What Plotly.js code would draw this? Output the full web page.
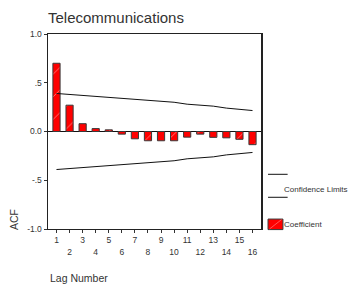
<!DOCTYPE html>
<html>
<head>
<meta charset="utf-8">
<script src="https://cdn.plot.ly/plotly-3.0.1.min.js"></script>
<style>html,body{margin:0;padding:0;background:#fff;}#chart{width:350px;height:289px;}</style>
</head>
<body>
<div id="chart"></div>
<script>
// Data
const lags = [1,2,3,4,5,6,7,8,9,10,11,12,13,14,15,16];
const acf = [0.70,0.27,0.08,0.03,0.017,-0.027,-0.075,-0.095,-0.095,-0.095,-0.058,-0.027,-0.06,-0.065,-0.08,-0.135];
const upperLimit = [0.39,0.38,0.37,0.36,0.35,0.34,0.33,0.32,0.31,0.30,0.28,0.27,0.26,0.24,0.23,0.215];
const lowerLimit = [-0.39,-0.38,-0.37,-0.36,-0.35,-0.34,-0.33,-0.32,-0.31,-0.30,-0.28,-0.27,-0.26,-0.24,-0.23,-0.215];
const yTickVals = [1,0.5,0,-0.5,-1];
const yTickText = ['1.0','.5','0.0','-.5','-1.0'];
const oddLabels = lags.map(v => v % 2 === 1 ? String(v) : '');
const evenLags = lags.filter(v => v % 2 === 0);
const evenLabels = evenLags.map(String);

const FONT = 'Liberation Sans, Arial, sans-serif';

const traces = [
  {
    type: 'bar', x: lags, y: acf, width: 0.55,
    marker: {
      color: '#ff0000',
      line: {color: '#3a3a3a', width: 1},
      pattern: {shape: '/', bgcolor: '#ff0000', fgcolor: '#ff8a8a', size: 16, solidity: 0.05}
    },
    showlegend: false, hoverinfo: 'skip'
  },
  {type: 'scatter', mode: 'lines', x: lags, y: upperLimit, line: {color: '#111', width: 1}, showlegend: false, hoverinfo: 'skip'},
  {type: 'scatter', mode: 'lines', x: lags, y: lowerLimit, line: {color: '#111', width: 1}, showlegend: false, hoverinfo: 'skip'},
  {type: 'scatter', mode: 'markers', x: evenLags, y: evenLags.map(() => null), xaxis: 'x2', showlegend: false, hoverinfo: 'skip'}
];

const layout = {
  width: 350, height: 289,
  margin: {l: 48, r: 89, t: 34, b: 60},
  paper_bgcolor: '#fff', plot_bgcolor: '#fff',
  font: {family: FONT, color: '#333'},
  title: {text: 'Telecommunications', font: {family: FONT, size: 15, color: '#333'},
          xref: 'paper', x: 0, xanchor: 'left', yref: 'container', y: 0.94, yanchor: 'middle'},
  bargap: 0.4,
  xaxis: {
    range: [0.35, 16.65], tickvals: lags, ticktext: oddLabels,
    ticks: 'outside', ticklen: 3, tickcolor: '#333', tickwidth: 1,
    showline: true, linecolor: '#222', linewidth: 1, mirror: true,
    showgrid: false, zeroline: false,
    tickfont: {family: FONT, size: 8.5, color: '#333'}
  },
  xaxis2: {
    overlaying: 'x', matches: 'x', side: 'bottom', anchor: 'y',
    tickvals: evenLags, ticktext: evenLabels, ticks: '', showline: false,
    showgrid: false, zeroline: false, ticklabelstandoff: 16,
    tickfont: {family: FONT, size: 8.5, color: '#333'}
  },
  yaxis: {
    range: [-1, 1], tickvals: yTickVals, ticktext: yTickText,
    ticks: 'outside', ticklen: 3, tickcolor: '#333',
    showline: true, linecolor: '#222', linewidth: 1.5, mirror: true,
    showgrid: false, zeroline: true, zerolinecolor: '#111', zerolinewidth: 1,
    tickfont: {family: FONT, size: 8.5, color: '#333'}
  },
  shapes: [
    {type: 'line', xref: 'paper', yref: 'paper', x0: 1.033, x1: 1.125, y0: 0.2805, y1: 0.2805, line: {color: '#111', width: 1}},
    {type: 'line', xref: 'paper', yref: 'paper', x0: 1.033, x1: 1.125, y0: 0.1626, y1: 0.1626, line: {color: '#111', width: 1}},
    {type: 'rect', xref: 'paper', yref: 'paper', x0: 1.033, x1: 1.103, y0: -0.003, y1: 0.051, fillcolor: '#ff0000', line: {color: '#3a3a3a', width: 1}},
    {type: 'line', xref: 'paper', yref: 'paper', x0: 1.040, x1: 1.096, y0: 0.0, y1: 0.048, line: {color: '#ff9090', width: 0.6}}
  ],
  annotations: [
    {text: 'Confidence Limits', xref: 'paper', yref: 'paper', x: 1.100, y: 0.205, xanchor: 'left', yanchor: 'middle', showarrow: false, font: {family: FONT, size: 8, color: '#333'}},
    {text: 'Coefficient', xref: 'paper', yref: 'paper', x: 1.100, y: 0.024, xanchor: 'left', yanchor: 'middle', showarrow: false, font: {family: FONT, size: 8, color: '#333'}},
    {text: 'Lag Number', xref: 'paper', yref: 'paper', x: 0, y: -0.25, xanchor: 'left', yanchor: 'middle', showarrow: false, font: {family: FONT, size: 10.5, color: '#333'}},
    {text: 'ACF', xref: 'paper', yref: 'paper', x: -0.16, y: 0.051, xanchor: 'center', yanchor: 'middle', textangle: -90, showarrow: false, font: {family: FONT, size: 10.5, color: '#333'}}
  ]
};

Plotly.newPlot('chart', traces, layout, {displayModeBar: false, staticPlot: true});
</script>
</body>
</html>
